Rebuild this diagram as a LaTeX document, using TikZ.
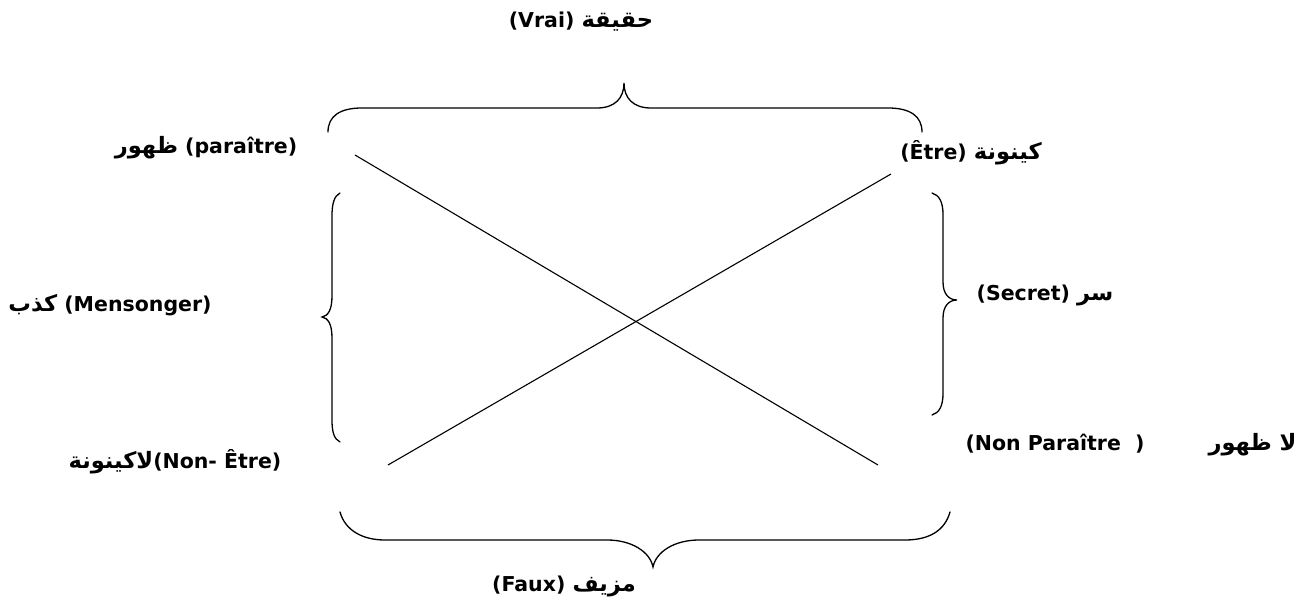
\documentclass[tikz,border=0pt]{standalone}
\usepackage{fontspec}
\setmainfont{DejaVu Sans}
\newfontfamily\arabicfont[Script=Arabic,Scale=1.1]{DejaVu Sans}
\TeXXeTstate=1
\newcommand{\ar}[1]{{\arabicfont\bfseries\beginR #1\endR}}
\begin{document}
\begin{tikzpicture}[x=1pt,y=-1pt,
  lbl/.style={font=\fontsize{20.5}{24}\selectfont\bfseries, inner sep=0pt, text=black},
  brace/.style={draw=black, line width=1.3pt, line cap=round},
  cross/.style={draw=black, line width=1.1pt}]
\useasboundingbox (0,0) rectangle (1307,601);

% labels
\node[lbl] (vrai) at (581,22) {(Vrai) \ar{حقيقة}};
\node[lbl] (paraitre) at (206,148) {\ar{ظهور} (paraître)};
\node[lbl] (etre) at (971,153) {(Être) \ar{كينونة}};
\node[lbl] (mensonger) at (110,305) {\ar{كذب} (Mensonger)};
\node[lbl] (secret) at (1045,295) {(Secret) \ar{سر}};
\node[lbl] (nonetre) at (175,462) {\ar{لاكينونة}(Non- Être)};
\node[lbl] (nonparaitre) at (1131,445) {(Non Paraître\ \ )\hspace{64pt}\ar{لا ظهور}};
\node[lbl] (faux) at (564,586) {(Faux) \ar{مزيف}};

% crossing lines
\coordinate (a1) at (355,155);
\coordinate (a2) at (878,465);
\coordinate (b1) at (388,465);
\coordinate (b2) at (891,174);
\draw[cross] (a1) -- (a2);
\draw[cross] (b1) -- (b2);

% top brace
\draw[brace] (328,132) .. controls (328,116) and (340,108) .. (362,108)
  -- (597,108) .. controls (615,108) and (624,98) .. (624,83)
  .. controls (624,98) and (633,108) .. (651,108)
  -- (888,108) .. controls (910,108) and (922,116) .. (922,132);

% left brace
\draw[brace] (340,193) .. controls (334,196) and (332,204) .. (332,216)
  -- (332,296) .. controls (332,310) and (328,316) .. (322,317)
  .. controls (328,318) and (332,324) .. (332,338)
  -- (332,420) .. controls (332,432) and (334,439) .. (340,442);

% right brace
\draw[brace] (932,193) .. controls (939,195) and (943,202) .. (943,214)
  -- (943,282) .. controls (943,294) and (949,300) .. (957,300)
  .. controls (949,300) and (943,306) .. (943,318)
  -- (943,394) .. controls (943,406) and (939,413) .. (932,415);

% bottom brace
\draw[brace] (340,512) .. controls (345,530) and (362,540) .. (385,540)
  -- (607,540) .. controls (632,540) and (650,552) .. (653,567)
  .. controls (656,552) and (674,540) .. (699,540)
  -- (905,540) .. controls (930,540) and (945,530) .. (950,512);
\end{tikzpicture}
\end{document}
